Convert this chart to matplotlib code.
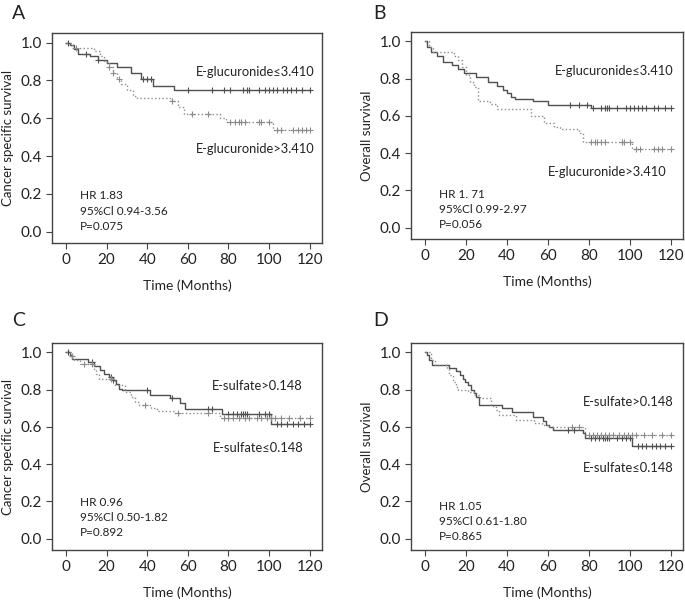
import numpy as np
import matplotlib.pyplot as plt

plt.rcParams['font.family'] = ['Lato', 'DejaVu Sans']

# Panel A: cancer specific survival, E-glucuronide
a_solid_t = [0, 2, 4, 6, 12, 16, 20, 25, 32, 37, 43, 53]
a_solid_s = [1, 0.985, 0.965, 0.94, 0.93, 0.91, 0.89, 0.87, 0.84, 0.81, 0.77, 0.75]
a_solid_c = [1, 10, 16, 38, 40, 42, 60, 72, 78, 81, 87, 89, 90, 95, 98, 100, 102, 104,
             107, 109, 111, 113, 116, 120]
a_dot_t = [0, 3, 14, 17, 19, 21, 23, 25, 27, 30, 33, 35, 52, 55, 58, 76, 79, 102]
a_dot_s = [1, 0.97, 0.955, 0.93, 0.9, 0.87, 0.84, 0.81, 0.78, 0.75, 0.72, 0.705, 0.69,
           0.66, 0.625, 0.60, 0.58, 0.54]
a_dot_c = [5, 21, 23, 26, 52, 62, 70, 81, 83, 85, 86, 88, 95, 96, 100, 104, 106, 112,
           114, 116, 118, 120]

# Panel B: overall survival, E-glucuronide
b_solid_t = [0, 1, 3, 6, 9, 13, 16, 19, 25, 31, 35, 38, 40, 42, 44, 53, 60, 81]
b_solid_s = [1, 0.97, 0.94, 0.92, 0.89, 0.87, 0.85, 0.83, 0.81, 0.78, 0.76, 0.74, 0.72,
             0.70, 0.69, 0.68, 0.66, 0.64]
b_solid_c = [71, 75, 79, 82, 86, 88, 89, 90, 94, 98, 100, 102, 104, 106, 108, 112, 114,
             117, 120]
b_dot_t = [0, 2, 4, 14, 16, 18, 20, 22, 24, 26, 32, 35, 52, 58, 63, 66, 75, 77, 101]
b_dot_s = [1, 0.97, 0.94, 0.92, 0.90, 0.86, 0.82, 0.78, 0.755, 0.68, 0.665, 0.635, 0.60,
           0.56, 0.54, 0.53, 0.51, 0.46, 0.42]
b_dot_c = [81, 83, 84, 86, 88, 96, 97, 100, 103, 105, 112, 114, 116, 120]

# Panel C: cancer specific survival, E-sulfate
c_solid_t = [0, 2, 3, 11, 14, 17, 19, 21, 23, 24.5, 26, 27.5, 41.5, 51, 56, 58.5, 77, 101]
c_solid_s = [1, 0.985, 0.966, 0.948, 0.927, 0.904, 0.885, 0.868, 0.85, 0.832, 0.806,
             0.797, 0.774, 0.756, 0.726, 0.695, 0.67, 0.615]
c_solid_c = [1, 13, 22, 23, 40, 52, 70, 72, 80, 82, 84, 86, 87, 88, 89, 95, 98, 100,
             104, 106, 109, 112, 114, 117, 120]
c_dot_t = [0, 2, 4, 7, 14, 15, 16.5, 24, 29, 32, 34, 36, 42, 45, 53, 76]
c_dot_s = [1, 0.98, 0.957, 0.94, 0.913, 0.886, 0.86, 0.824, 0.79, 0.76, 0.734, 0.717,
           0.70, 0.685, 0.675, 0.65]
c_dot_c = [3, 9, 13, 22, 39, 55, 70, 78, 80, 82, 85, 88, 90, 94, 96, 99, 101, 103, 106,
           110, 115, 120]

# Panel D: overall survival, E-sulfate
d_solid_t = [0, 1, 2, 3.5, 12, 15, 17, 18.5, 19.5, 21, 22.5, 24, 25, 26.5, 37.8, 42.5,
             52.6, 57.5, 59, 60.5, 62.5, 77, 78, 101]
d_solid_s = [1, 0.985, 0.96, 0.93, 0.915, 0.9, 0.88, 0.857, 0.84, 0.826, 0.8, 0.78, 0.76,
             0.72, 0.70, 0.68, 0.656, 0.63, 0.61, 0.60, 0.585, 0.565, 0.54, 0.50]
d_solid_c = [70, 73, 81, 83, 85, 87, 88, 89, 90, 94, 96, 98, 100, 104, 106, 108, 111,
             113, 115, 117, 120]
d_dot_t = [0, 3, 5, 11, 12, 13.5, 15, 16, 21, 24, 27, 32.5, 34.5, 36, 44.5, 53.5, 57, 60, 78]
d_dot_s = [1, 0.96, 0.93, 0.913, 0.877, 0.84, 0.814, 0.80, 0.79, 0.77, 0.755, 0.71, 0.69,
           0.665, 0.638, 0.62, 0.61, 0.60, 0.555]
d_dot_c = [72, 75, 80, 82, 84, 86, 88, 90, 92, 95, 97, 99, 101, 103, 107, 111, 116, 120]

panels = [
    dict(tag='A', ylabel='Cancer specific survival',
         solid=(a_solid_t, a_solid_s, a_solid_c), dot=(a_dot_t, a_dot_s, a_dot_c),
         lab_hi='E-glucuronide≤3.410', lab_lo='E-glucuronide>3.410',
         y_hi=0.846, y_lo=0.436, x_hi=122.5, x_lo=122.5,
         stats=['HR 1.83', '95%Cl 0.94-3.56', 'P=0.075'], stat_y=0.218),
    dict(tag='B', ylabel='Overall survival',
         solid=(b_solid_t, b_solid_s, b_solid_c), dot=(b_dot_t, b_dot_s, b_dot_c),
         lab_hi='E-glucuronide≤3.410', lab_lo='E-glucuronide>3.410',
         y_hi=0.84, y_lo=0.298, x_hi=121.5, x_lo=118,
         stats=['HR 1. 71', '95%Cl 0.99-2.97', 'P=0.056'], stat_y=0.209),
    dict(tag='C', ylabel='Cancer specific survival',
         solid=(c_solid_t, c_solid_s, c_solid_c), dot=(c_dot_t, c_dot_s, c_dot_c),
         lab_hi='E-sulfate>0.148', lab_lo='E-sulfate≤0.148',
         y_hi=0.818, y_lo=0.488, x_hi=116.6, x_lo=117,
         stats=['HR 0.96', '95%Cl 0.50-1.82', 'P=0.892'], stat_y=0.225),
    dict(tag='D', ylabel='Overall survival',
         solid=(d_solid_t, d_solid_s, d_solid_c), dot=(d_dot_t, d_dot_s, d_dot_c),
         lab_hi='E-sulfate>0.148', lab_lo='E-sulfate≤0.148',
         y_hi=0.734, y_lo=0.38, x_hi=121.5, x_lo=121.5,
         stats=['HR 1.05', '95%Cl 0.61-1.80', 'P=0.865'], stat_y=0.205),
]

rects = [
    [0.076, 0.597, 0.394, 0.348],
    [0.600, 0.604, 0.397, 0.343],
    [0.076, 0.088, 0.394, 0.343],
    [0.600, 0.088, 0.397, 0.343],
]
tag_pos = [(0.018, 0.978), (0.545, 0.978), (0.018, 0.468), (0.545, 0.468)]


def draw_km(ax, t, s, c, color, ls):
    t = np.asarray(t, float)
    s = np.asarray(s, float)
    c = np.asarray(c, float)
    end = max(t.max(), c.max())
    tt = np.append(t, end)
    ss = np.append(s, s[-1])
    ax.step(tt, ss, where='post', color=color, ls=ls, lw=1.0)
    idx = np.searchsorted(t, c, side='right') - 1
    ax.plot(c, s[idx], ls='none', marker='+', ms=5, mew=0.8, color=color)


fig = plt.figure(figsize=(6.85, 6.03), dpi=100)

for p, r, tp in zip(panels, rects, tag_pos):
    ax = fig.add_axes(r)
    draw_km(ax, *p['solid'], color='#505050', ls='-')
    draw_km(ax, *p['dot'], color='#8c8c8c', ls=':')

    ax.set_xlim(-6.8, 126)
    ax.set_ylim(-0.06, 1.05)
    ax.set_xticks([0, 20, 40, 60, 80, 100, 120])
    ax.set_yticks([0.0, 0.2, 0.4, 0.6, 0.8, 1.0])
    ax.set_yticklabels(['0.0', '0.2', '0.4', '0.6', '0.8', '1.0'])
    ax.tick_params(labelsize=11, length=4, width=0.8, color='#444444',
                   labelcolor='#222222', pad=3)
    for sp in ax.spines.values():
        sp.set_color('#444444')
        sp.set_linewidth(1.0)

    ax.set_xlabel('Time (Months)', fontsize=10, color='#222222', labelpad=9)
    ax.set_ylabel(p['ylabel'], fontsize=9.5, color='#222222', labelpad=5)

    ax.text(p['x_hi'], p['y_hi'], p['lab_hi'], ha='right', va='center',
            fontsize=9.3, color='#222222')
    ax.text(p['x_lo'], p['y_lo'], p['lab_lo'], ha='right', va='center',
            fontsize=9.3, color='#222222')
    ax.text(7, p['stat_y'], '\n'.join(p['stats']), ha='left', va='top',
            fontsize=8.5, color='#222222', linespacing=1.45)

    fig.text(tp[0], tp[1], p['tag'], fontsize=14, ha='left', va='center',
             color='#222222')

fig.savefig('out.png', dpi=100)
